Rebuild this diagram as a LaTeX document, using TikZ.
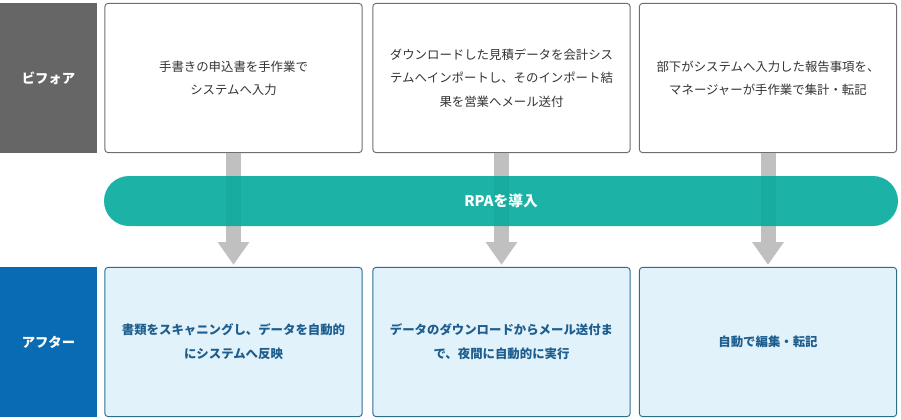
\documentclass[tikz,border=0pt]{standalone}
\usepackage{fontspec}
\setmainfont{Noto Sans CJK JP}
\usetikzlibrary{arrows.meta}

\definecolor{beforegray}{HTML}{666666}
\definecolor{boxgray}{HTML}{6E6E6E}
\definecolor{textgray}{HTML}{333333}
\definecolor{afterblue}{HTML}{0A6BB5}
\definecolor{afterfill}{HTML}{E2F2FA}
\definecolor{afterline}{HTML}{2D6E8F}
\definecolor{aftertext}{HTML}{1D5E8E}
\definecolor{rpateal}{HTML}{09AB9D}
\definecolor{arrowgray}{HTML}{C0C0C0}

\tikzset{
  sidelabel/.style={minimum width=72.75pt, minimum height=112.5pt, inner sep=0pt,
    text=white, font=\fontsize{10}{12}\selectfont\bfseries},
  beforebox/.style={draw=boxgray, fill=white, line width=0.7pt, rounded corners=2.5pt,
    minimum width=193pt, minimum height=112pt, inner sep=0pt, align=center,
    text=textgray, font=\fontsize{9.3}{17.5}\selectfont},
  afterbox/.style={beforebox, draw=afterline, fill=afterfill, text=aftertext,
    font=\fontsize{9.3}{18}\selectfont\bfseries},
  pill/.style={fill=rpateal, fill opacity=0.92, text opacity=1, text=white,
    rounded corners=18.75pt, minimum width=595.5pt, minimum height=37.5pt, inner sep=0pt,
    font=\fontsize{11}{13}\selectfont\bfseries},
  downarrow/.style={draw=arrowgray, line width=11.25pt,
    -{Triangle[width=22.5pt, length=17pt]}, shorten >=1.5pt}
}

\begin{document}
\begin{tikzpicture}[x=0.75pt, y=-0.75pt]

\useasboundingbox (0,0) rectangle (901,419);

\node[sidelabel, fill=beforegray] (before) at (48.5,78) {ビフォア};
\node[sidelabel, fill=afterblue] (after) at (48.5,342) {アフター};

\node[beforebox] (b1) at (233.5,78) {手書きの申込書を手作業で\\システムへ入力};
\node[beforebox] (b2) at (501.5,78) {ダウンロードした見積データを会計シス\\テムへインポートし、そのインポート結\\果を営業へメール送付};
\node[beforebox] (b3) at (768,78) {部下がシステムへ入力した報告事項を、\\マネージャーが手作業で集計・転記};

\node[afterbox] (a1) at (233.5,342) {書類をスキャニングし、データを自動的\\にシステムへ反映};
\node[afterbox] (a2) at (501.5,342) {データのダウンロードからメール送付ま\\で、夜間に自動的に実行};
\node[afterbox] (a3) at (768,342) {自動で編集・転記};

\draw[downarrow] (b1.south) -- (a1.north);
\draw[downarrow] (b2.south) -- (a2.north);
\draw[downarrow] (b3.south) -- (a3.north);

\node[pill] (rpa) at (501,201) {RPAを導入};

\end{tikzpicture}
\end{document}
